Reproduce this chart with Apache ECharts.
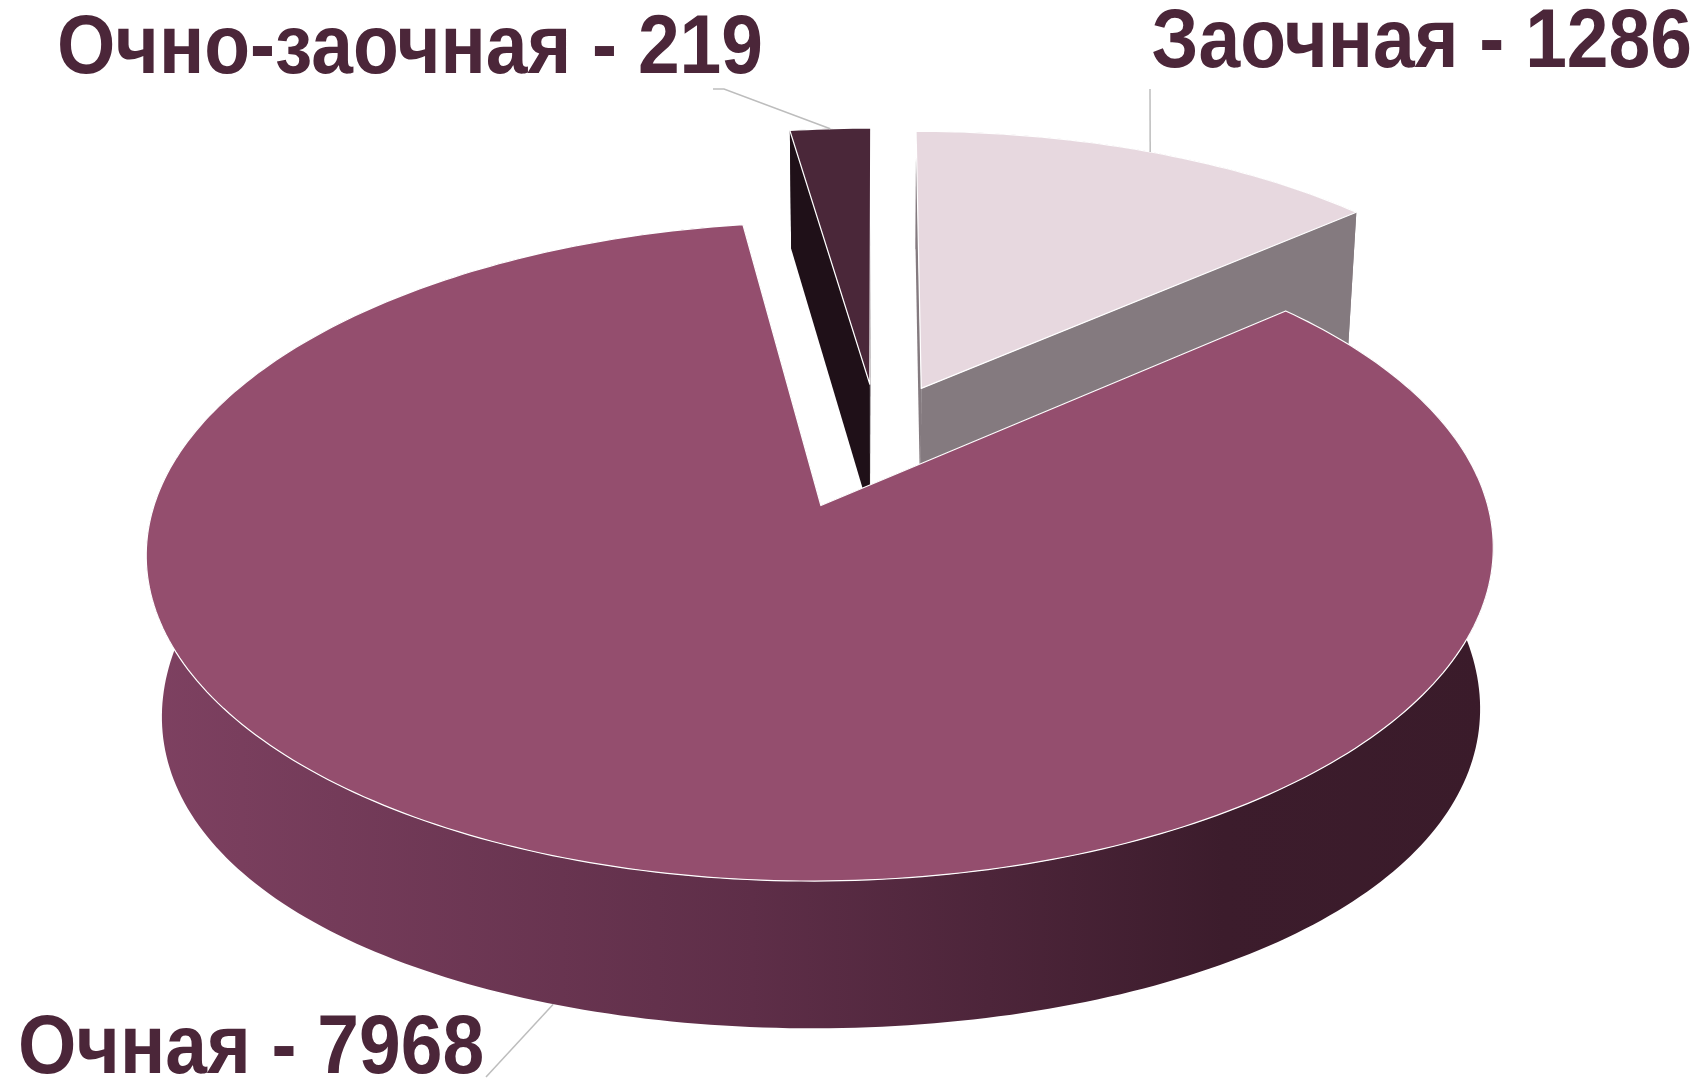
<!DOCTYPE html>
<html><head><meta charset="utf-8">
<script src="https://cdn.jsdelivr.net/npm/echarts@6/dist/echarts.min.js"></script>
<style>html,body{margin:0;padding:0;background:#fff}#chart{width:1706px;height:1083px}</style>
</head><body><div id="chart"></div>
<script>
// Slices in clockwise order, starting from the back of the pie
const categories = ['Заочная', 'Очная', 'Очно-заочная'];
const values = [1286, 7968, 219];

// View / style settings
const VIEW = {cx: 877.5, cy: 433.6, F: 4150, FxScale: 1.012, D: 6.5, tilt: Math.acos(0.88), H: 0.2368, sideBoost: 0.2, startAngle: 0};
const EXPLODE = [0.167, 0.245, 0.167];
const TOP_COLORS = ['#e7d8df', '#944e6e', '#4a2739'];
const SIDE_COLORS = ['#847a7f', '#3d1d2d', '#1f1018'];
const DRAW_RANK = [0, 2, 1];
const LABELS = [
  {x: 1692, y: 44, align: 'right', leader: [[1150, 89]], h: 'top'},
  {x: 18, y: 1050, align: 'left', leader: [[486, 1077]], h: 'bottom'},
  {x: 57, y: 50, align: 'left', leader: [[713, 89], [724, 89]], h: 'top'}
];
const TEXT_COLOR = '#4b2639';

const total = values.reduce((a, b) => a + b, 0);
const cosT = Math.cos(VIEW.tilt), sinT = Math.sin(VIEW.tilt);
function project(u, v, h) {
  const ys = v * sinT - h * cosT;
  const z = VIEW.D - v * cosT - h * sinT;
  return [VIEW.cx + VIEW.F * VIEW.FxScale * u / z, VIEW.cy + VIEW.F * ys / z];
}

function renderItem(params, api) {
  const i = params.dataIndex;
  let before = 0;
  for (let k = 0; k < i; k++) before += values[k];
  const val = api.value(0);
  const d2r = Math.PI / 180;
  const a0 = (VIEW.startAngle + before / total * 360) * d2r;
  const a1 = (VIEW.startAngle + (before + val) / total * 360) * d2r;
  const mid = (a0 + a1) / 2;
  const e = EXPLODE[i];
  const ox = e * Math.sin(mid), ov = -e * Math.cos(mid);
  const H = VIEW.H;
  const P = (phi, r, h) => {
    const u = ox + r * Math.sin(phi), v = ov - r * Math.cos(phi);
    const top = project(u, v, 0);
    if (!h) return top;
    const bot = project(u, v, h);
    const s = r * Math.sin(phi);
    const m = 1 + VIEW.sideBoost * s * s;
    return [top[0] + (bot[0] - top[0]) * m, top[1] + (bot[1] - top[1]) * m];
  };
  const n = Math.max(2, Math.ceil((a1 - a0) / d2r));
  const topArc = [], botArc = [];
  for (let s = 0; s <= n; s++) {
    const phi = a0 + (a1 - a0) * s / n;
    topArc.push(P(phi, 1, 0));
    botArc.push(P(phi, 1, -H));
  }
  const base = DRAW_RANK[i] * 10;
  let wallFill = SIDE_COLORS[i];
  if (i === 1) {
    wallFill = new echarts.graphic.LinearGradient(0, 0, 1, 0, [
      {offset: 0, color: '#7e4161'},
      {offset: 0.45, color: '#5e2e48'},
      {offset: 0.8, color: '#3c1c2c'},
      {offset: 1, color: '#3a1b2a'}
    ]);
  }
  const children = [];
  children.push({type: 'polygon', z2: base + 1,
    shape: {points: topArc.concat(botArc.slice().reverse())},
    style: {fill: wallFill}});
  [a0, a1].forEach((a, j) => {
    children.push({type: 'polygon', z2: base + 2 + j,
      shape: {points: [P(a, 0, 0), P(a, 1, 0), P(a, 1, -H), P(a, 0, -H)]},
      style: {fill: SIDE_COLORS[i]}});
  });
  children.push({type: 'polygon', z2: base + 5,
    shape: {points: [P(0, 0, 0)].concat(topArc)},
    style: {fill: TOP_COLORS[i], stroke: '#ffffff', lineWidth: 1.2, lineJoin: 'round'}});
  const L = LABELS[i];
  const target = P(mid, 1, L.h === 'top' ? 0 : -H);
  children.push({type: 'polyline', z2: 50,
    shape: {points: L.leader.concat([target])},
    style: {stroke: '#bdbdbd', lineWidth: 1.5, fill: null}});
  return {type: 'group', children};
}

const chart = echarts.init(document.getElementById('chart'), null, {renderer: 'canvas'});
chart.setOption({
  animation: false,
  backgroundColor: '#ffffff',
  graphic: categories.map((c, i) => ({
    type: 'text', x: LABELS[i].x, y: LABELS[i].y, scaleY: 1.12, z: 10,
    style: {text: c + ' - ' + values[i], x: 0, y: 0, fill: TEXT_COLOR,
      font: 'bold 75px "Liberation Sans", Arial, sans-serif',
      align: LABELS[i].align, verticalAlign: 'middle'}
  })),
  series: [{
    type: 'custom',
    coordinateSystem: 'none',
    silent: true,
    data: values.map(v => [v]),
    renderItem: renderItem
  }]
});
</script></body></html>
